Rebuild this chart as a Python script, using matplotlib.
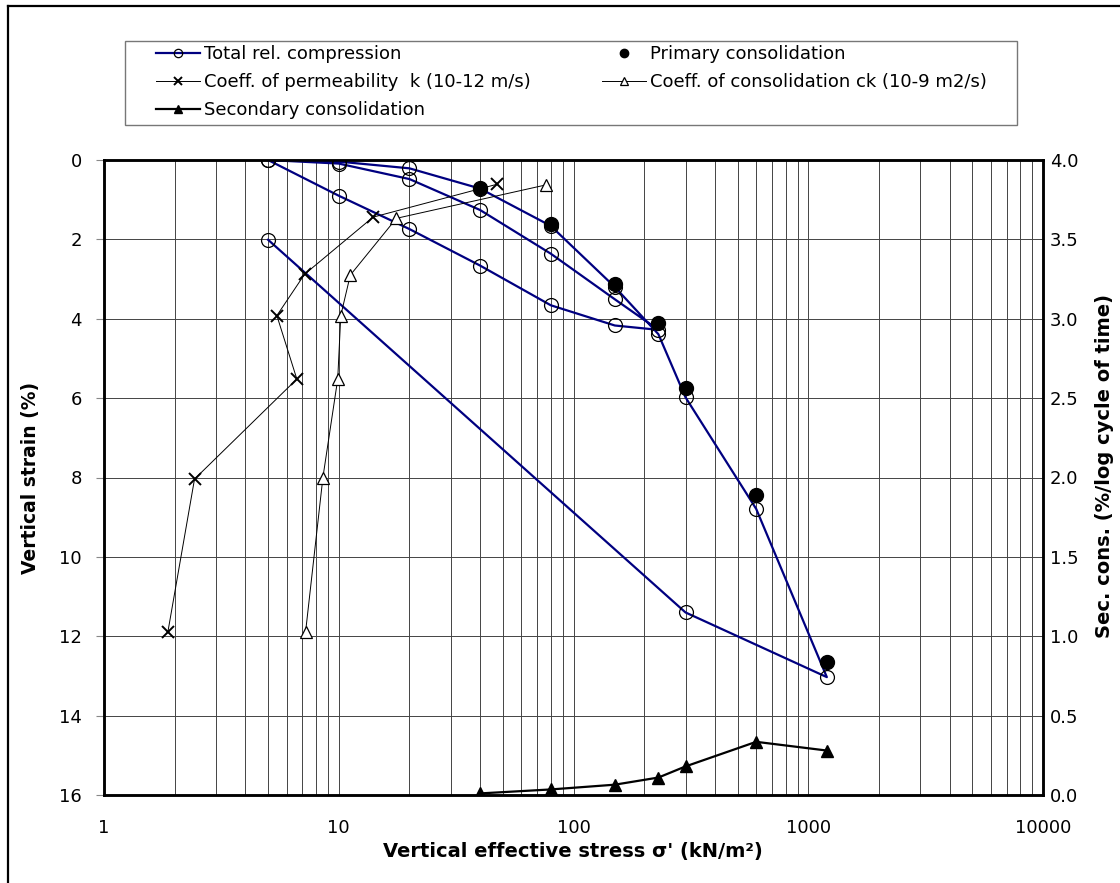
import matplotlib
matplotlib.use("Agg")
import matplotlib.pyplot as plt
from matplotlib.lines import Line2D
from matplotlib.patches import Rectangle
from matplotlib.ticker import FixedLocator, FormatStrFormatter, NullFormatter, LogLocator

# total relative compression (load / unload / reload path)
stress_total = [5, 10, 20, 40, 80, 150, 230, 150, 80, 40, 20, 10, 5, 10, 20, 40, 80, 150, 230, 300, 600, 1200, 300, 5]
strain_total = [0.0, 0.9, 1.74, 2.66, 3.66, 4.17, 4.28, 3.51, 2.36, 1.26, 0.48, 0.09, 0.0, 0.04, 0.21, 0.72, 1.66, 3.2, 4.39, 5.98, 8.79, 13.03, 11.4, 2.01]

# primary consolidation
stress_prim = [40, 80, 150, 230, 300, 600, 1200]
strain_prim = [0.7, 1.6, 3.13, 4.11, 5.75, 8.45, 12.66]

# coefficient of permeability k (10-12 m/s), plotted against strain
k_vals = [1.87, 2.43, 6.63, 5.45, 7.15, 14.0, 47.3]
k_strain = [11.9, 8.04, 5.52, 3.92, 2.88, 1.44, 0.61]

# coefficient of consolidation ck (10-9 m2/s)
ck_vals = [7.22, 8.56, 9.9, 10.2, 11.2, 17.6, 76.0]
ck_strain = [11.9, 8.0, 5.52, 3.92, 2.9, 1.47, 0.63]

# secondary consolidation (%/log cycle of time), right axis
sec_stress = [40, 80, 150, 230, 300, 600, 1200]
sec_vals = [0.01, 0.035, 0.065, 0.11, 0.18, 0.335, 0.28]

W, H = 1120, 883
fig = plt.figure(figsize=(W / 100, H / 100), dpi=100)
ax = fig.add_axes([104 / W, 1 - 795 / H, (1043 - 104) / W, (795 - 160) / H])

navy = "#000080"
l_tot, = ax.plot(stress_total, strain_total, color=navy, lw=1.6, marker="o", ms=10,
                 mfc="none", mec="black", mew=0.9, label="Total rel. compression", zorder=4)
l_prim, = ax.plot(stress_prim, strain_prim, ls="none", marker="o", ms=10, color="black",
                  label="Primary consolidation", zorder=5)
l_k, = ax.plot(k_vals, k_strain, color="black", lw=0.7, marker="x", ms=9, mew=1.4,
               label="Coeff. of permeability  k (10-12 m/s)", zorder=4)
l_ck, = ax.plot(ck_vals, ck_strain, color="black", lw=0.7, marker="^", ms=9, mfc="white",
                mec="black", mew=0.9, label="Coeff. of consolidation ck (10-9 m2/s)", zorder=4)

ax.set_xscale("log")
ax.set_xlim(1, 10000)
ax.set_ylim(16, 0)
ax.xaxis.set_minor_locator(LogLocator(base=10, subs=range(2, 10), numticks=20))
ax.xaxis.set_minor_formatter(NullFormatter())
ax.set_xticks([1, 10, 100, 1000, 10000])
ax.set_xticklabels(["1", "10", "100", "1000", "10000"])
ax.set_yticks(range(0, 17, 2))
ax.grid(True, which="both", axis="x", color="#444444", lw=0.7)
ax.grid(True, which="major", axis="y", color="#444444", lw=0.7)
ax.set_axisbelow(True)

ax.tick_params(axis="x", which="both", length=0, pad=17, labelsize=13)
ax.tick_params(axis="y", length=6, color="#888888", pad=10, labelsize=13)
for s in ax.spines.values():
    s.set_linewidth(1.8)

ax2 = ax.twinx()
l_sec, = ax2.plot(sec_stress, sec_vals, color="black", lw=1.6, marker="^", ms=9,
                  label="Secondary consolidation", zorder=5)
ax2.set_ylim(0, 4)
ax2.yaxis.set_major_locator(FixedLocator([i * 0.5 for i in range(9)]))
ax2.yaxis.set_major_formatter(FormatStrFormatter("%.1f"))
ax2.tick_params(axis="y", length=0, pad=5, labelsize=13)
for s in ax2.spines.values():
    s.set_linewidth(1.8)

fig.text(573 / W, 1 - 851 / H, "Vertical effective stress \u03c3' (kN/m\u00b2)", ha="center",
         va="center", fontsize=14, fontweight="bold")
fig.text(31 / W, 1 - 478 / H, "Vertical strain (%)", ha="center", va="center",
         rotation=90, fontsize=13.5, fontweight="bold")
fig.text(1104 / W, 1 - 466 / H, "Sec. cons. (%/log cycle of time)", ha="center", va="center",
         rotation=90, fontsize=14, fontweight="bold")

# legend: drawn frame plus two frameless columns
fig.add_artist(Rectangle((125 / W, 1 - 125 / H), (1017 - 125) / W, (125 - 41) / H,
                         transform=fig.transFigure, fill=True, facecolor="white",
                         edgecolor="#777777", lw=1.0, zorder=-1))
leg_kw = dict(frameon=False, borderpad=0, borderaxespad=0, handlelength=2.45,
              handletextpad=0.22, labelspacing=0.55, markerscale=0.6,
              bbox_transform=fig.transFigure, loc="upper left", fontsize=13)
col1 = [l_tot, l_k, l_sec]
col2 = [l_prim, l_ck]
leg1 = ax2.legend(handles=col1, labels=[h.get_label() for h in col1],
                  bbox_to_anchor=(156 / W, 1 - 45 / H), **leg_kw)
ax2.add_artist(leg1)
leg2 = ax2.legend(handles=col2, labels=[h.get_label() for h in col2],
                  bbox_to_anchor=(602 / W, 1 - 45 / H), **leg_kw)

# outer chart border (top and left visible)
fig.add_artist(Line2D([8 / W, 8 / W], [0, 1 - 6 / H], color="black", lw=1.6))
fig.add_artist(Line2D([8 / W, 1], [1 - 6 / H, 1 - 6 / H], color="black", lw=1.6))

fig.savefig("out.png", dpi=100)
